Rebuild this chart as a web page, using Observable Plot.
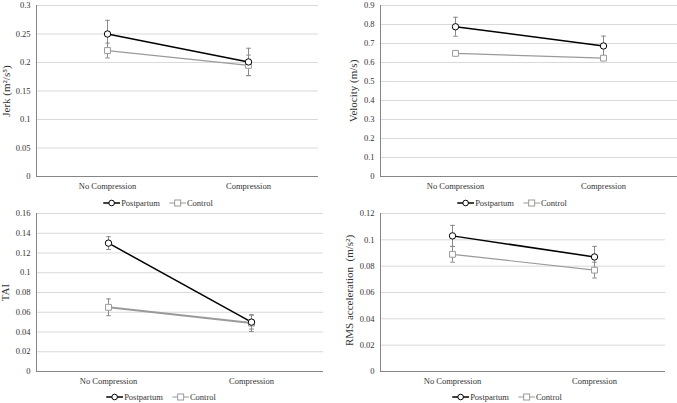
<!DOCTYPE html>
<html><head><meta charset="utf-8">
<script src="https://cdn.jsdelivr.net/npm/d3@7"></script>
<script src="https://cdn.jsdelivr.net/npm/@observablehq/plot@0.6"></script>
<style>
html,body{margin:0;padding:0;background:#fff;}
body{width:677px;height:403px;position:relative;overflow:hidden;font-family:"Liberation Serif","Times New Roman",serif;}
.p{position:absolute}
.p svg, .p svg text{font-family:"Liberation Serif","Times New Roman",serif !important;}
.lg{position:absolute;display:flex;align-items:center;font-size:8.5px;transform:translateX(-50%);white-space:nowrap;line-height:10px;color:#333}
.lg .it{display:inline-flex;align-items:center}
.lg .it + .it{margin-left:9px}
.lg svg{margin-right:1px}
</style></head><body>
<script>
// ---- data ----
const categories = ["No Compression", "Compression"];
const groups = ["Postpartum", "Control"];

const jerkPostpartum = [0.250, 0.201];
const jerkPostpartumErr = [0.024, 0.024];
const jerkControl = [0.221, 0.195];
const jerkControlErr = [0.013, 0.018];
const jerkTicks = [0, 0.05, 0.1, 0.15, 0.2, 0.25, 0.3];

const velocityPostpartum = [0.788, 0.687];
const velocityPostpartumErr = [0.050, 0.052];
const velocityControl = [0.648, 0.623];
const velocityControlErr = [0.005, 0.005];
const velocityTicks = [0, 0.1, 0.2, 0.3, 0.4, 0.5, 0.6, 0.7, 0.8, 0.9];

const taiPostpartum = [0.130, 0.050];
const taiPostpartumErr = [0.0065, 0.007];
const taiControl = [0.065, 0.049];
const taiControlErr = [0.0085, 0.0085];
const taiTicks = [0, 0.02, 0.04, 0.06, 0.08, 0.1, 0.12, 0.14, 0.16];

const rmsPostpartum = [0.103, 0.087];
const rmsPostpartumErr = [0.008, 0.008];
const rmsControl = [0.089, 0.077];
const rmsControlErr = [0.006, 0.006];
const rmsTicks = [0, 0.02, 0.04, 0.06, 0.08, 0.1, 0.12];

// ---- styles ----
const FONT = '"Liberation Serif","Times New Roman",serif';
const POST = "#000000";
const CTRL = "#9a9a9a";
const ERR = "#8a8a8a";
const GRID = "#d9d9d9";
const AXIS = "#868686";
const TXT = "#333";

const capSymbol = {
  draw(ctx, size) {
    const r = Math.sqrt(size / Math.PI);
    ctx.moveTo(-r, 0);
    ctx.lineTo(r, 0);
  }
};

function rows(post, postErr, ctrl, ctrlErr) {
  const out = [];
  [[post, postErr, groups[0]], [ctrl, ctrlErr, groups[1]]].forEach(([v, e, g]) => {
    categories.forEach((c, j) => out.push({cond: c, group: g, mean: v[j], lo: v[j] - e[j], hi: v[j] + e[j]}));
  });
  return out;
}

function panel(cfg) {
  const data = rows(cfg.post, cfg.postErr, cfg.ctrl, cfg.ctrlErr);
  const P = data.filter(d => d.group === groups[0]);
  const C = data.filter(d => d.group === groups[1]);
  const chart = Plot.plot({
    width: cfg.width, height: cfg.height,
    marginLeft: cfg.ml, marginRight: cfg.mr, marginTop: cfg.mt, marginBottom: cfg.mb,
    style: {fontFamily: FONT, fontSize: "8.5px", color: TXT, background: "#fff"},
    x: {type: "point", domain: categories, padding: 0.5},
    y: {domain: [0, cfg.ticks[cfg.ticks.length - 1]]},
    marks: [
      Plot.gridY(cfg.ticks, {stroke: GRID, strokeOpacity: 1}),
      Plot.axisY({ticks: cfg.ticks, tickFormat: d => String(d), tickSize: 0, tickPadding: 6, label: null, fill: TXT, fontFamily: FONT, fontSize: 8.5}),
      Plot.axisX({tickSize: 0, tickPadding: 6, label: null, fill: TXT, fontFamily: FONT, fontSize: 8.5}),
      Plot.ruleY([0], {stroke: AXIS}),
      Plot.frame({anchor: "left", stroke: AXIS}),
      Plot.text([cfg.title], {frameAnchor: "left", text: d => d, rotate: -90, dx: cfg.tdx, dy: cfg.tdy || 0, fontSize: 11, fontFamily: FONT, fill: TXT, textAnchor: "middle", lineAnchor: "middle"}),
      // error bars
      Plot.ruleX(data, {x: "cond", y1: "lo", y2: "hi", stroke: ERR, strokeWidth: 1}),
      Plot.dot(data, {x: "cond", y: "lo", symbol: capSymbol, r: 2.3, stroke: ERR, fill: "none", strokeWidth: 1}),
      Plot.dot(data, {x: "cond", y: "hi", symbol: capSymbol, r: 2.3, stroke: ERR, fill: "none", strokeWidth: 1}),
      // lines
      Plot.line(C, {x: "cond", y: "mean", stroke: CTRL, strokeWidth: cfg.cw || 1.2}),
      Plot.line(P, {x: "cond", y: "mean", stroke: POST, strokeWidth: 1.5}),
      // markers
      Plot.dot(C, {x: "cond", y: "mean", symbol: "square", r: 3.3, stroke: CTRL, fill: "#fff", strokeWidth: 1}),
      Plot.dot(P, {x: "cond", y: "mean", symbol: "circle", r: 3.2, stroke: POST, fill: "#fff", strokeWidth: 1})
    ]
  });
  const div = document.createElement("div");
  div.className = "p";
  div.style.left = cfg.left + "px";
  div.style.top = cfg.top + "px";
  div.appendChild(chart);
  document.body.appendChild(div);
}

function legend(cx, cy) {
  const d = document.createElement("div");
  d.className = "lg";
  d.style.left = cx + "px";
  d.style.top = (cy - 5) + "px";
  d.innerHTML =
    `<span class="it"><svg width="17" height="8"><line x1="0" y1="4" x2="17" y2="4" stroke="${POST}" stroke-width="1.5"/><circle cx="8.5" cy="4" r="2.8" fill="#fff" stroke="${POST}"/></svg>${groups[0]}</span>` +
    `<span class="it"><svg width="17" height="8"><line x1="0" y1="4" x2="17" y2="4" stroke="${CTRL}" stroke-width="1.2"/><rect x="5.5" y="1" width="6" height="6" fill="#fff" stroke="${CTRL}"/></svg>${groups[1]}</span>`;
  document.body.appendChild(d);
}

panel({left: 0, top: 0, width: 330, height: 195, ml: 36, mr: 12, mt: 5, mb: 19, ticks: jerkTicks,
  title: "Jerk (m²/s⁵)", tdx: -30, post: jerkPostpartum, postErr: jerkPostpartumErr, ctrl: jerkControl, ctrlErr: jerkControlErr});
panel({left: 340, top: 0, width: 337, height: 195, ml: 40, mr: 0, mt: 5, mb: 19, ticks: velocityTicks,
  title: "Velocity (m/s)", tdx: -27, post: velocityPostpartum, postErr: velocityPostpartumErr, ctrl: velocityControl, ctrlErr: velocityControlErr});
panel({left: 0, top: 209, width: 330, height: 181, ml: 36, mr: 7, mt: 4, mb: 19, ticks: taiTicks,
  title: "TAI", tdx: -31, post: taiPostpartum, postErr: taiPostpartumErr, ctrl: taiControl, ctrlErr: taiControlErr, cw: 2});
panel({left: 340, top: 209, width: 337, height: 181, ml: 40, mr: 12, mt: 4, mb: 19, ticks: rmsTicks,
  title: "RMS acceleration  (m/s²)", tdx: -31, tdy: -2, post: rmsPostpartum, postErr: rmsPostpartumErr, ctrl: rmsControl, ctrlErr: rmsControlErr});

legend(158, 203);
legend(512, 203);
legend(161, 397);
legend(507, 397);
</script>
</body></html>
